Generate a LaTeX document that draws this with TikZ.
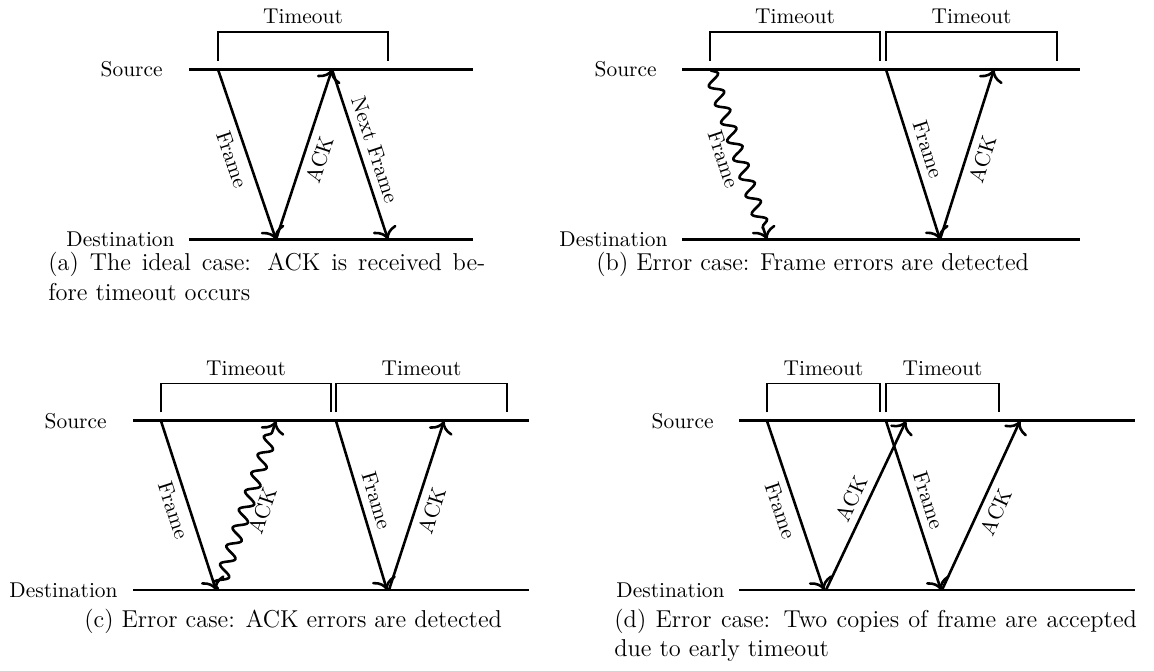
\documentclass[tikz,border=0pt]{standalone}
\usepackage{tikz}
\usetikzlibrary{arrows.meta,decorations.pathmorphing}

\tikzset{
  timeline/.style={line width=1.4pt},
  msg/.style={-{To[scale=1.3]}, very thick},
  lost/.style={-{To[scale=1.3]}, very thick, decorate,
    decoration={snake, amplitude=3pt, segment length=9pt, post length=5pt}},
  bracket/.style={line width=0.9pt},
  tag/.style={inner sep=0pt, anchor=east},
  caption/.style={inner sep=0pt, anchor=base west, font=\fontsize{11.4}{13.7}\selectfont},
}

\begin{document}
\begin{tikzpicture}[x=0.467pt, y=-0.467pt]
\useasboundingbox (0,0) rectangle (1154,671);

% (a) ideal case
\node[tag] (srcA) at (163,69.5) {Source};
\node[tag] (dstA) at (175,239.5) {Destination};
\coordinate (aS0) at (189,69.5); \coordinate (aS1) at (473,69.5);
\coordinate (aD0) at (189,239.5); \coordinate (aD1) at (473,239.5);
\coordinate (a1) at (218,69.5); \coordinate (a2) at (276,239.5);
\coordinate (a3) at (332,69.5); \coordinate (a4) at (388,239.5);
\draw[timeline] (aS0) -- (aS1);
\draw[timeline] (aD0) -- (aD1);
\draw[bracket] (218,61) -- (218,32) -- node[above] (toA) {Timeout} (388,32) -- (388,61);
\draw[msg] (a1) -- node[sloped, below] (aF) {Frame} (a2);
\draw[msg] (a2) -- node[sloped, below] (aA) {ACK} (a3);
\draw[msg] (a3) -- node[sloped, above] (aN) {Next Frame} (a4);
\node[caption, text width=204pt, align=justify] (capA) at (48,271)
  {(a) The ideal case: ACK is received be-\linebreak fore timeout occurs};

% (b) frame error
\node[tag] (srcB) at (657,69.5) {Source};
\node[tag] (dstB) at (668,239.5) {Destination};
\coordinate (bS0) at (682,69.5); \coordinate (bS1) at (1080,69.5);
\coordinate (bD0) at (682,239.5); \coordinate (bD1) at (1080,239.5);
\coordinate (b1) at (710,69.5); \coordinate (b2) at (767,239.5);
\coordinate (b3) at (886,69.5); \coordinate (b4) at (940,239.5);
\coordinate (b5) at (994,69.5);
\draw[timeline] (bS0) -- (bS1);
\draw[timeline] (bD0) -- (bD1);
\draw[bracket] (710,61) -- (710,32) -- node[above] (toB1) {Timeout} (880,32) -- (880,61);
\draw[bracket] (886,61) -- (886,32) -- node[above] (toB2) {Timeout} (1057,32) -- (1057,61);
\draw[lost] (b1) -- node[sloped, below] (bF1) {Frame} (b2);
\draw[msg] (b3) -- node[sloped, above] (bF2) {Frame} (b4);
\draw[msg] (b4) -- node[sloped, below] (bA) {ACK} (b5);
\node[caption] (capB) at (596,271) {(b) Error case: Frame errors are detected};

% (c) ACK error
\node[tag] (srcC) at (107,421) {Source};
\node[tag] (dstC) at (118,590) {Destination};
\coordinate (cS0) at (133,421); \coordinate (cS1) at (529,421);
\coordinate (cD0) at (133,590); \coordinate (cD1) at (529,590);
\coordinate (c1) at (161,421); \coordinate (c2) at (216,590);
\coordinate (c3) at (218,590); \coordinate (c4) at (276,421);
\coordinate (c5) at (336,421); \coordinate (c6) at (387,590);
\coordinate (c7) at (389,590); \coordinate (c8) at (444,421);
\draw[timeline] (cS0) -- (cS1);
\draw[timeline] (cD0) -- (cD1);
\draw[bracket] (161,412.5) -- (161,383.5) -- node[above] (toC1) {Timeout} (331,383.5) -- (331,412.5);
\draw[bracket] (336,412.5) -- (336,383.5) -- node[above] (toC2) {Timeout} (507,383.5) -- (507,412.5);
\draw[msg] (c1) -- node[sloped, below] (cF1) {Frame} (c2);
\draw[lost] (c3) -- node[sloped, below] (cA1) {ACK} (c4);
\draw[msg] (c5) -- node[sloped, above] (cF2) {Frame} (c6);
\draw[msg] (c7) -- node[sloped, below] (cA2) {ACK} (c8);
\node[caption] (capC) at (84,627) {(c) Error case: ACK errors are detected};

% (d) early timeout
\node[tag] (srcD) at (714,421) {Source};
\node[tag] (dstD) at (725,590) {Destination};
\coordinate (dS0) at (739,421); \coordinate (dS1) at (1135,421);
\coordinate (dD0) at (739,590); \coordinate (dD1) at (1135,590);
\coordinate (d1) at (767,421); \coordinate (d2) at (824,590);
\coordinate (d3) at (826,590); \coordinate (d4) at (906,421);
\coordinate (d5) at (886,421); \coordinate (d6) at (941,590);
\coordinate (d7) at (942,590); \coordinate (d8) at (1020,421);
\draw[timeline] (dS0) -- (dS1);
\draw[timeline] (dD0) -- (dD1);
\draw[bracket] (767,412.5) -- (767,383.5) -- node[above] (toD1) {Timeout} (880,383.5) -- (880,412.5);
\draw[bracket] (886,412.5) -- (886,383.5) -- node[above] (toD2) {Timeout} (999,383.5) -- (999,412.5);
\draw[msg] (d1) -- node[sloped, below] (dF1) {Frame} (d2);
\draw[msg] (d3) -- node[sloped, above] (dA1) {ACK} (d4);
\draw[msg] (d5) -- node[sloped, above] (dF2) {Frame} (d6);
\draw[msg] (d7) -- node[sloped, below] (dA2) {ACK} (d8);
\node[caption, text width=244pt, align=justify] (capD) at (614,627)
  {(d) Error case: Two copies of frame are accepted due to early timeout};
\end{tikzpicture}
\end{document}
